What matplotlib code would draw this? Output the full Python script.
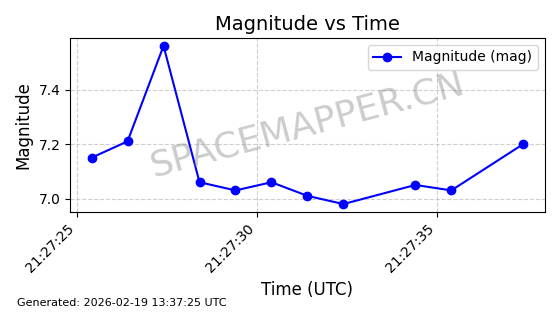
import datetime as dt
import matplotlib
matplotlib.use("Agg")
import matplotlib.pyplot as plt
import matplotlib.dates as mdates

# observation times (seconds past 21:27:00 UTC) and magnitudes
seconds = [25.4, 26.4, 27.4, 28.4, 29.4, 30.4, 31.4, 32.4, 34.4, 35.4, 37.4]
mags = [7.15, 7.21, 7.56, 7.06, 7.03, 7.06, 7.01, 6.98, 7.05, 7.03, 7.20]

base = dt.datetime(2026, 2, 18, 21, 27, 0)
times = [base + dt.timedelta(seconds=s) for s in seconds]

fig, ax = plt.subplots(figsize=(5.6, 3.14), dpi=100)
ax.plot(times, mags, 'o-', color='blue', markersize=6, label='Magnitude (mag)')

ax.set_title('Magnitude vs Time', fontsize=14)
ax.set_xlabel('Time (UTC)', fontsize=12)
ax.set_ylabel('Magnitude', fontsize=12)
ax.grid(True, linestyle='--', alpha=0.6)
ax.legend(loc='upper right')

ax.xaxis.set_major_locator(mdates.SecondLocator(bysecond=range(0, 60, 5)))
ax.xaxis.set_major_formatter(mdates.DateFormatter('%H:%M:%S'))
plt.setp(ax.get_xticklabels(), rotation=45, ha='right')

ax.text(0.5, 0.5, 'SPACEMAPPER.CN', transform=ax.transAxes, fontsize=26,
        color='gray', alpha=0.4, ha='center', va='center', rotation=15)

fig.text(0.03, 0.025, 'Generated: 2026-02-19 13:37:25 UTC', fontsize=8)

fig.subplots_adjust(left=0.125, right=0.973, top=0.879, bottom=0.325)
fig.savefig('out.png', dpi=100)
